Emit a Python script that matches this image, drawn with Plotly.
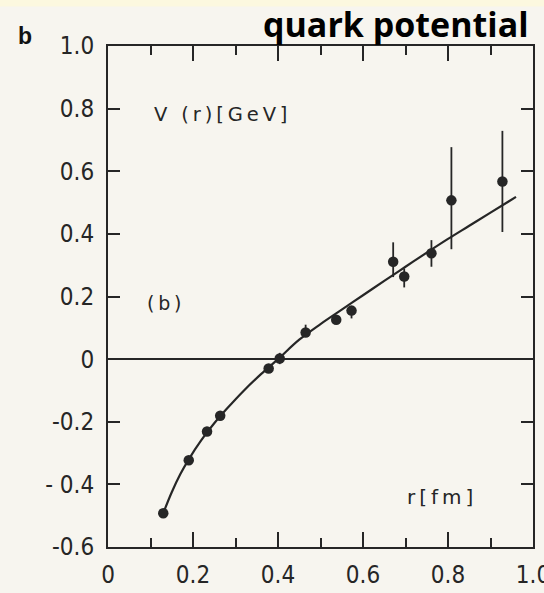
import plotly.graph_objects as go

# Measured quark-antiquark potential (r in fm, V in GeV)
r_data = [0.130, 0.190, 0.233, 0.264, 0.378, 0.404, 0.465, 0.537, 0.573,
          0.671, 0.697, 0.761, 0.808, 0.928]
v_data = [-0.492, -0.323, -0.231, -0.181, -0.030, 0.002, 0.085, 0.126, 0.155,
          0.311, 0.264, 0.338, 0.507, 0.567]
err_up = [0.0, 0.0, 0.0, 0.0, 0.0, 0.018, 0.025, 0.0, 0.0,
          0.062, 0.025, 0.042, 0.170, 0.162]
err_dn = [0.0, 0.0, 0.0, 0.0, 0.0, 0.018, 0.0, 0.0, 0.025,
          0.049, 0.035, 0.043, 0.156, 0.161]

# Fitted potential curve
r_fit = [0.13, 0.15, 0.17, 0.19, 0.22, 0.25, 0.28, 0.32, 0.36, 0.40, 0.45,
         0.50, 0.55, 0.60, 0.65, 0.70, 0.75, 0.80, 0.85, 0.90, 0.96]
v_fit = [-0.492, -0.425, -0.368, -0.320, -0.258, -0.205, -0.158, -0.100,
         -0.048, 0.0, 0.062, 0.112, 0.158, 0.204, 0.250, 0.295, 0.340,
         0.384, 0.426, 0.468, 0.518]

x_ticks = [0, 0.2, 0.4, 0.6, 0.8, 1.0]
x_tick_text = ["0", "0.2", "0.4", "0.6", "0.8", "1.0"]
y_ticks = [-0.6, -0.4, -0.2, 0, 0.2, 0.4, 0.6, 0.8, 1.0]
y_tick_text = ["-0.6", "- 0.4", "-0.2", "0", "0.2", "0.4", "0.6", "0.8", "1.0"]

INK = "#262626"
PAPER = "#f7f5ef"
FONT = "DejaVu Sans Condensed, DejaVu Sans, sans-serif"
LABEL_FONT = "DejaVu Sans, sans-serif"
TS = "\u2009"  # thin space used as letter tracking in the axis captions

fig = go.Figure()

fig.add_trace(go.Scatter(
    x=r_fit, y=v_fit, mode="lines", line=dict(color=INK, width=2.2, shape="spline"),
    hoverinfo="skip", showlegend=False,
))

fig.add_trace(go.Scatter(
    x=r_data, y=v_data, mode="markers",
    marker=dict(color=INK, size=10.5, symbol="circle"),
    error_y=dict(type="data", symmetric=False, array=err_up, arrayminus=err_dn,
                 color=INK, thickness=1.8, width=0),
    showlegend=False,
))

axis_common = dict(
    showline=True, linecolor=INK, linewidth=2, mirror="allticks",
    ticks="inside", tickcolor=INK, tickwidth=2,
    showgrid=False, tickfont=dict(family=FONT, size=24, color=INK),
    ticklabeloverflow="allow", automargin=False,
)

fig.update_xaxes(
    range=[0, 1.0], tickvals=x_ticks, ticktext=x_tick_text, ticklen=15,
    minor=dict(dtick=0.1, ticklen=9, ticks="inside", tickcolor=INK, tickwidth=2),
    zeroline=False, ticklabelstandoff=5, **axis_common,
)
fig.update_yaxes(
    range=[-0.6, 1.0], tickvals=y_ticks, ticktext=y_tick_text, ticklen=12,
    zeroline=True, zerolinecolor=INK, zerolinewidth=2,
    ticklabelstandoff=7, **axis_common,
)


def tracked(s):
    return TS.join(s)


annotations = [
    dict(text=tracked("V (r)[GeV]"), x=0.103, y=0.78, xref="x", yref="y",
         xanchor="left", yanchor="middle", showarrow=False,
         font=dict(family=LABEL_FONT, size=19.5, color=INK)),
    dict(text=tracked("(b)"), x=0.087, y=0.18, xref="x", yref="y",
         xanchor="left", yanchor="middle", showarrow=False,
         font=dict(family=LABEL_FONT, size=19, color=INK)),
    dict(text=tracked("r[fm]"), x=0.78, y=-0.44, xref="x", yref="y",
         xanchor="center", yanchor="middle", showarrow=False,
         font=dict(family=LABEL_FONT, size=20, color=INK)),
    dict(text="<b>quark potential</b>", x=0.996, y=1.043, xref="paper", yref="paper",
         xanchor="right", yanchor="middle", showarrow=False,
         font=dict(family="Open Sans, sans-serif", size=34, color="#000000")),
    dict(text="<b>b</b>", x=-0.196, y=1.019, xref="paper", yref="paper",
         xanchor="center", yanchor="middle", showarrow=False,
         font=dict(family="Liberation Sans, Arial, sans-serif", size=23, color="#111111")),
]

fig.update_layout(
    width=544, height=593,
    margin=dict(l=108, r=11, t=46, b=46),
    paper_bgcolor=PAPER, plot_bgcolor=PAPER,
    annotations=annotations,
    shapes=[dict(type="rect", xref="paper", yref="paper",
                 x0=-0.26, x1=1.03, y0=1.079, y1=1.1,
                 fillcolor="#fcf8df", line=dict(width=0), layer="below")],
)

fig.write_html("out.html")
